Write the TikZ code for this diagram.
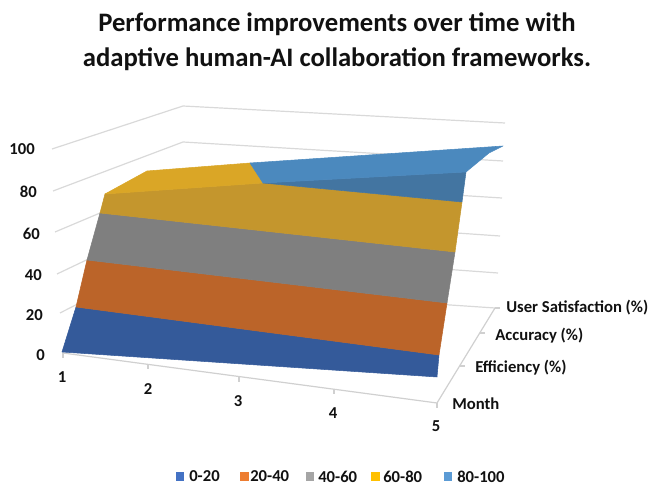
\documentclass[tikz,border=0pt]{standalone}
\usepackage{fontspec}
\setmainfont{Carlito}
\definecolor{gridgray}{HTML}{D9D9D9}
\definecolor{axisgray}{HTML}{D0D0D0}
\definecolor{txt}{HTML}{111111}
\definecolor{sBlue}{HTML}{345A9A}
\definecolor{sOrange}{HTML}{BB6429}
\definecolor{sGray}{HTML}{7F7F7F}
\definecolor{sYellowD}{HTML}{C4962D}
\definecolor{sYellowT}{HTML}{DAA626}
\definecolor{sBlueD}{HTML}{4375A1}
\definecolor{sBlueT}{HTML}{4B89BE}
\definecolor{lgBlue}{HTML}{4472C4}
\definecolor{lgOrange}{HTML}{ED7D31}
\definecolor{lgGray}{HTML}{A5A5A5}
\definecolor{lgYellow}{HTML}{FFC000}
\definecolor{lgLBlue}{HTML}{5B9BD5}
\begin{document}
\begin{tikzpicture}[x=0.75pt,y=-0.75pt,
  grid/.style={draw=gridgray, line width=0.9pt},
  axisline/.style={draw=axisgray, line width=0.9pt},
  patch/.style={fill=#1, draw=#1, line width=0.4pt, line join=round},
  lbl/.style={font=\fontsize{12.5}{15}\selectfont\bfseries, text=txt, inner sep=0pt},
  ttl/.style={font=\fontsize{20}{24}\selectfont\bfseries, text=txt, inner sep=0pt, anchor=base},
  lgsq/.style={fill=#1, draw=none, minimum width=6.5pt, minimum height=6.5pt, inner sep=0pt}]
\useasboundingbox (0,0) rectangle (654,484);

% title
\node[ttl] (t1) at (337,32) {Performance improvements over time with};
\node[ttl] (t2) at (337,67) {adaptive human-AI collaboration frameworks.};

% wall corners
\coordinate (F100) at (52,149); \coordinate (B100) at (183,106); \coordinate (E100) at (505,123);
\coordinate (F80) at (53,191);  \coordinate (B80) at (183,142);  \coordinate (E80) at (503,161);
\coordinate (F60) at (55,232);  \coordinate (B60) at (183,178);  \coordinate (E60) at (502,198);
\coordinate (F40) at (57,274);  \coordinate (B40) at (183,214);  \coordinate (E40) at (500,236);
\coordinate (F20) at (60,313);  \coordinate (B20) at (183,250);  \coordinate (E20) at (498,273);
\coordinate (F0) at (62,352);   \coordinate (B0) at (183,287);   \coordinate (E0) at (495,308);

% gridlines
\foreach \v in {100,80,60,40,20,0}{
  \draw[grid] (F\v) -- (B\v) -- (E\v);
}

% month axis (floor front edge)
\coordinate (M1) at (63,353);
\coordinate (M2) at (148,364.5);
\coordinate (M3) at (239,377);
\coordinate (M4) at (334,389.5);
\coordinate (M5) at (437,403);
\draw[axisline] (M1) -- (M5);
\foreach \m in {1,...,5}{ \draw[axisline] (M\m) -- ++(0,5); }

% depth axis
\coordinate (K1) at (460,366);
\coordinate (K2) at (480,333);
\draw[axisline] (M5) -- (E0);
\draw[axisline] (K1) -- ++(5,0);
\draw[axisline] (K2) -- ++(5,0);
\draw[axisline] (E0) -- ++(5,0);

% surface points
\coordinate (BL) at (62,352);
\coordinate (BR) at (437,377);
\coordinate (L20) at (76,307);
\coordinate (L40) at (87,260);
\coordinate (L60) at (100,213);
\coordinate (TL) at (105,194);
\coordinate (R20) at (439,355);
\coordinate (R40) at (447,303);
\coordinate (R60) at (455,252);
\coordinate (R80) at (462,202);
\coordinate (TR) at (466,172);
\coordinate (MM) at (263,183);
\coordinate (P1) at (147,171);
\coordinate (P2) at (250,163);
\coordinate (P3) at (503,146);
\coordinate (P4) at (489,153);

% surface: steep front face
\path[patch=sBlue] (BL) -- (BR) -- (R20) -- (L20) -- cycle;
\path[patch=sOrange] (L20) -- (R20) -- (R40) -- (L40) -- cycle;
\path[patch=sGray] (L40) -- (R40) -- (R60) -- (L60) -- cycle;
\path[patch=sYellowD] (L60) -- (R60) -- (R80) -- (MM) -- (TL) -- cycle;
\path[patch=sBlueD] (MM) -- (TR) -- (R80) -- cycle;
% surface: top faces
\path[patch=sYellowT] (TL) -- (P1) -- (P2) -- (MM) -- cycle;
\path[patch=sBlueT] (P2) -- (P3) -- (P4) -- (TR) -- (MM) -- cycle;

% value axis labels
\node[lbl, anchor=east] (v100) at (35,149) {100};
\node[lbl, anchor=east] (v80) at (37,192) {80};
\node[lbl, anchor=east] (v60) at (40,234) {60};
\node[lbl, anchor=east] (v40) at (42,275) {40};
\node[lbl, anchor=east] (v20) at (43,315) {20};
\node[lbl, anchor=east] (v0) at (45,355) {0};

% month labels
\node[lbl] (m1) at (62,377) {1};
\node[lbl] (m2) at (148,389) {2};
\node[lbl] (m3) at (238,401) {3};
\node[lbl] (m4) at (333,413) {4};
\node[lbl] (m5) at (436,426) {5};

% series labels
\node[lbl, anchor=west] (sU) at (506,308) {User Satisfaction (\%)};
\node[lbl, anchor=west] (sA) at (495,336) {Accuracy (\%)};
\node[lbl, anchor=west] (sE) at (475,368) {Efficiency (\%)};
\node[lbl, anchor=west] (sM) at (452,404) {Month};

% legend
\node[lgsq=lgBlue] (q1) at (180,476.5) {};
\node[lbl, anchor=west] (g1) at (189,476.5) {0-20};
\node[lgsq=lgOrange] (q2) at (244.5,476.5) {};
\node[lbl, anchor=west] (g2) at (250,476.5) {20-40};
\node[lgsq=lgGray] (q3) at (310,476.5) {};
\node[lbl, anchor=west] (g3) at (318,476.5) {40-60};
\node[lgsq=lgYellow] (q4) at (375.5,476.5) {};
\node[lbl, anchor=west] (g4) at (383,476.5) {60-80};
\node[lgsq=lgLBlue] (q5) at (448,476.5) {};
\node[lbl, anchor=west] (g5) at (457,476.5) {80-100};
\end{tikzpicture}
\end{document}
